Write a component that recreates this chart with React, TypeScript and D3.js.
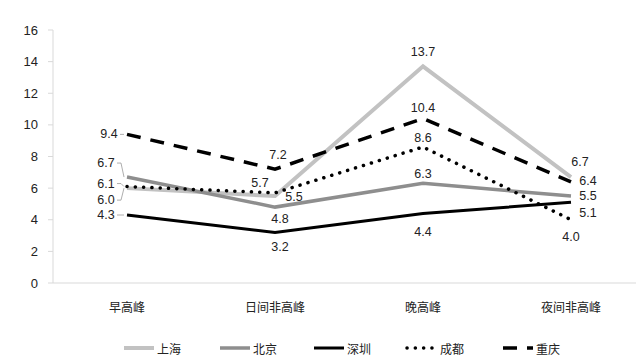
import React from "react";
import * as d3 from "d3";

const categories = ["早高峰", "日间非高峰", "晚高峰", "夜间非高峰"];
const seriesNames = ["上海", "北京", "深圳", "成都", "重庆"];
const shanghai = [6.0, 5.5, 13.7, 6.7];
const beijing = [6.7, 4.8, 6.3, 5.5];
const shenzhen = [4.3, 3.2, 4.4, 5.1];
const chengdu = [6.1, 5.7, 8.6, 4.0];
const chongqing = [9.4, 7.2, 10.4, 6.4];
const yTicks = [0, 2, 4, 6, 8, 10, 12, 14, 16];

const seriesValues = [shanghai, beijing, shenzhen, chengdu, chongqing];

const styles = [
  { color: "#c2c2c2", width: 4, dash: "", cap: "butt" },
  { color: "#8e8e8e", width: 3.5, dash: "", cap: "butt" },
  { color: "#000000", width: 3, dash: "", cap: "butt" },
  { color: "#000000", width: 3.5, dash: "0.1 8.2", cap: "round" },
  { color: "#000000", width: 3.5, dash: "14 10", cap: "butt" },
];

// label offsets (dx, dy) per series per category
const labelOffsets = [
  [[-21, 12], [19, 1], [0, -14], [9, -15]],
  [[-21, -14], [5, 12], [0, -9], [17, 0]],
  [[-21, 0], [5, 15], [0, 19], [17, 11]],
  [[-21, -3], [-15, -10], [0, -9], [0, 17]],
  [[-18, 0], [3, -14], [0, -11], [17, -1]],
];

const W = 636;
const H = 361;
const left = 53;
const top = 30;
const bottom = 283;

export default function App() {
  const x = d3.scaleBand<string>().domain(categories).range([left, left + 592]);
  const y = d3.scaleLinear().domain([0, 16]).range([bottom, top]);
  const cx = (c: string) => (x(c) as number) + x.bandwidth() / 2;
  const line = d3
    .line<number>()
    .x((_, i) => cx(categories[i]))
    .y((v) => y(v));
  const font = "'Noto Sans CJK SC', 'Noto Sans', sans-serif";
  const numFont = "'Liberation Sans', Arial, sans-serif";

  const legendX = [124, 220, 314, 407, 503];
  const legendY = 348;

  return (
    <svg
      width={W}
      height={H}
      style={{ position: "absolute", left: 0, top: 0, background: "#fff" }}
      fontFamily={font}
    >
      <rect width={W} height={H} fill="#fff" />
      {/* axes */}
      <line x1={left} x2={left} y1={top} y2={bottom} stroke="#d9d9d9" strokeWidth={1} />
      <line x1={left} x2={W} y1={bottom} y2={bottom} stroke="#d9d9d9" strokeWidth={1} />
      {yTicks.map((t) => (
        <g key={t}>
          <line x1={left - 5} x2={left} y1={y(t)} y2={y(t)} stroke="#d9d9d9" />
          <text
            x={38}
            y={y(t)}
            textAnchor="end"
            dominantBaseline="central"
            fontSize={13}
            fontFamily={numFont}
            fill="#222"
          >
            {t}
          </text>
        </g>
      ))}
      {categories.map((c) => (
        <text
          key={c}
          x={cx(c)}
          y={306}
          textAnchor="middle"
          dominantBaseline="central"
          fontSize={12}
          fill="#222"
        >
          {c}
        </text>
      ))}
      {/* lines */}
      {seriesValues.map((vals, si) => (
        <path
          key={si}
          d={line(vals) || ""}
          fill="none"
          stroke={styles[si].color}
          strokeWidth={styles[si].width}
          strokeDasharray={styles[si].dash || undefined}
          strokeLinecap={styles[si].cap as any}
          strokeLinejoin="miter"
        />
      ))}
      {/* leader lines for first category */}
      {seriesValues.map((vals, si) => {
        const px = cx(categories[0]);
        const py = y(vals[0]);
        const [dx, dy] = labelOffsets[si][0];
        const lx = px + dx + 11;
        const ly = py + dy;
        return (
          <polyline
            key={"ld" + si}
            points={`${lx},${ly} ${lx + 4},${ly} ${px - 3},${py}`}
            fill="none"
            stroke="#999"
            strokeWidth={0.8}
          />
        );
      })}
      {/* labels */}
      {seriesValues.map((vals, si) =>
        vals.map((v, i) => (
          <text
            key={si + "-" + i}
            x={cx(categories[i]) + labelOffsets[si][i][0]}
            y={y(v) + labelOffsets[si][i][1]}
            textAnchor="middle"
            dominantBaseline="central"
            fontSize={12.5}
            fontFamily={numFont}
            fill="#222"
          >
            {v.toFixed(1)}
          </text>
        ))
      )}
      {/* legend */}
      {seriesNames.map((n, si) => (
        <g key={n}>
          <line
            x1={legendX[si]}
            x2={legendX[si] + 30}
            y1={legendY}
            y2={legendY}
            stroke={styles[si].color}
            strokeWidth={styles[si].width}
            strokeDasharray={styles[si].dash || undefined}
            strokeLinecap={styles[si].cap as any}
          />
          <text
            x={legendX[si] + 33}
            y={legendY}
            dominantBaseline="central"
            fontSize={12}
            fill="#222"
          >
            {n}
          </text>
        </g>
      ))}
    </svg>
  );
}
